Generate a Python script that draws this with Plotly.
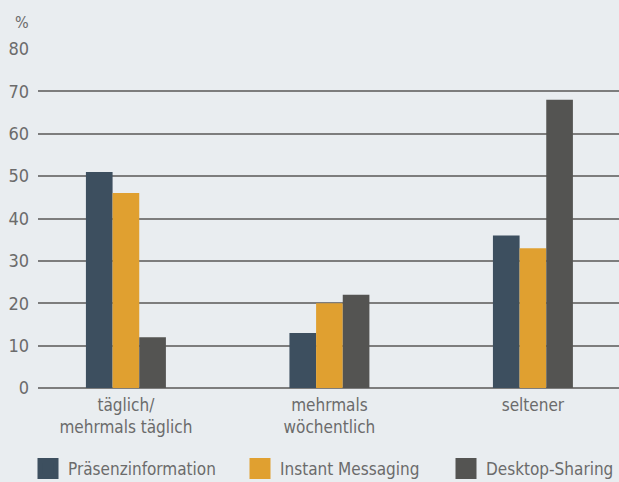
import plotly.graph_objects as go

categories = ["täglich/<br>mehrmals täglich", "mehrmals<br>wöchentlich", "seltener"]
series_names = ["Präsenzinformation", "Instant Messaging", "Desktop-Sharing"]
praesenz = [51, 13, 36]
instant = [46, 20, 33]
desktop = [12, 22, 68]
colors = ["#3d4f5f", "#e0a030", "#545452"]
y_ticks = [0, 10, 20, 30, 40, 50, 60, 70, 80]

FONT = "DejaVu Sans Condensed, Liberation Sans Narrow, sans-serif"
TXT = "#6b6b6b"
BG = "#e9edf0"

legend_ids = ["legend", "legend2", "legend3"]
legend_x = [28, 240, 446]

fig = go.Figure()
for name, vals, col, lid in zip(series_names, [praesenz, instant, desktop], colors, legend_ids):
    fig.add_trace(go.Bar(x=categories, y=vals, name=name, marker_color=col,
                         marker_line_width=0, showlegend=False))
    fig.add_trace(go.Scatter(x=[None], y=[None], mode="markers", name=name,
                             marker=dict(symbol="square", size=23, color=col,
                                         line=dict(color=col, width=5)),
                             showlegend=True, legend=lid))

legend_common = dict(orientation="h", xanchor="left", yanchor="middle",
                     xref="container", yref="container", y=13 / 482,
                     font=dict(size=17, color=TXT), itemsizing="trace",
                     bgcolor="rgba(0,0,0,0)")

fig.update_layout(
    width=619, height=482,
    paper_bgcolor=BG, plot_bgcolor=BG,
    margin=dict(l=38, r=0, t=49, b=94, autoexpand=False),
    barmode="group", bargap=0.607, bargroupgap=0,
    font=dict(family=FONT, size=17, color=TXT),
    xaxis=dict(type="category", range=[-0.432, 2.423], showgrid=False,
               showline=False, ticks="", ticklabelstandoff=5,
               tickfont=dict(size=17, color=TXT)),
    yaxis=dict(range=[0, 80], tickvals=y_ticks, showgrid=True, gridcolor="#7d7d7d",
               gridwidth=2, zeroline=True, zerolinecolor="#7d7d7d", zerolinewidth=2,
               showline=False, ticks="", ticklabelstandoff=8,
               tickfont=dict(size=18, color=TXT)),
    legend=dict(legend_common, x=legend_x[0] / 619),
    legend2=dict(legend_common, x=legend_x[1] / 619),
    legend3=dict(legend_common, x=legend_x[2] / 619),
    annotations=[dict(text="%", xref="paper", yref="paper", x=0, y=1, xshift=-25,
                      yshift=38, showarrow=False, font=dict(size=16, color=TXT))],
)

fig.write_html(
    "out.html",
    config={"displayModeBar": False},
    post_script="document.body.style.margin='0';document.body.style.background='%s';" % BG,
)
